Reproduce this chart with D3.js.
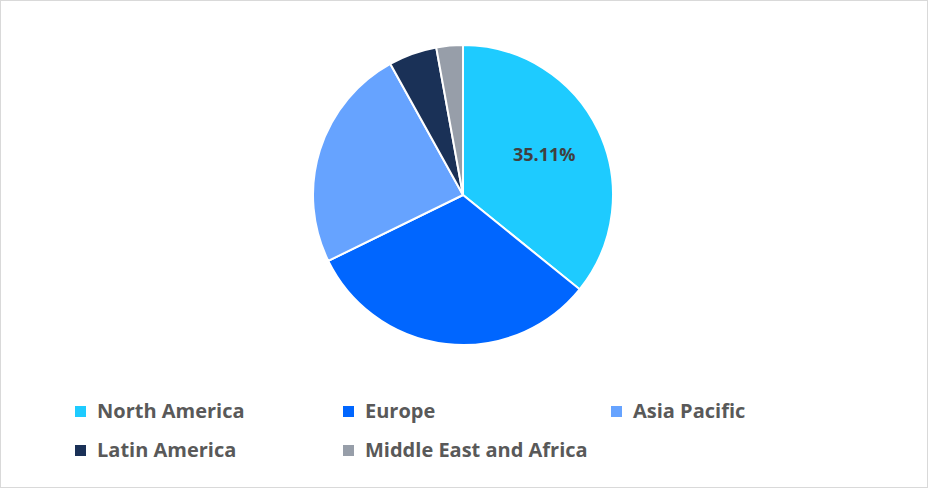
<!DOCTYPE html><html><head><script src="https://cdn.jsdelivr.net/npm/d3@7"></script>
<style>body{margin:0;background:#fff}</style></head><body><svg id="c" width="928" height="488"></svg>
<script>
const categories=["North America","Europe","Asia Pacific","Latin America","Middle East and Africa"];
const values=[35.11,31.3,23.7,5.1,2.8];
const colors=["#1ECBFF","#0066FF","#66A3FF","#1A3157","#979EA9"];
const svg=d3.select("#c");
svg.append("rect").attr("x",0.5).attr("y",0.5).attr("width",927).attr("height",487).attr("fill","#fff").attr("stroke","#d9d9d9");
const data=categories.map((c,i)=>({c,v:values[i],col:colors[i]}));
const pie=d3.pie().value(d=>d.v).sort(null);
const arc=d3.arc().innerRadius(0).outerRadius(150);
const g=svg.append("g").attr("transform","translate(463,195)");
const arcs=pie(data);
g.selectAll("path").data(arcs).join("path").attr("d",arc).attr("fill",d=>d.data.col).attr("stroke","#fff").attr("stroke-width",2);
const la=d3.arc().innerRadius(0).outerRadius(180);
const c0=la.centroid(arcs[0]);
g.append("text").attr("x",c0[0]).attr("y",c0[1]).attr("text-anchor","middle").attr("dominant-baseline","middle")
 .attr("font-family","Open Sans, sans-serif").attr("font-weight","bold").attr("font-size",18).attr("fill","#404040").text(values[0].toFixed(2)+"%");
const pos=[[75,413],[343,413],[611,413],[75,452],[343,452]];
const lg=svg.append("g");
data.forEach((d,i)=>{
 lg.append("rect").attr("x",pos[i][0]).attr("y",pos[i][1]-7).attr("width",11).attr("height",11).attr("fill",d.col);
 lg.append("text").attr("x",pos[i][0]+22).attr("y",pos[i][1]).attr("dominant-baseline","middle")
  .attr("font-family","Open Sans, sans-serif").attr("font-weight","bold").attr("font-size",20).attr("fill","#595959").text(d.c);
});
</script></body></html>
